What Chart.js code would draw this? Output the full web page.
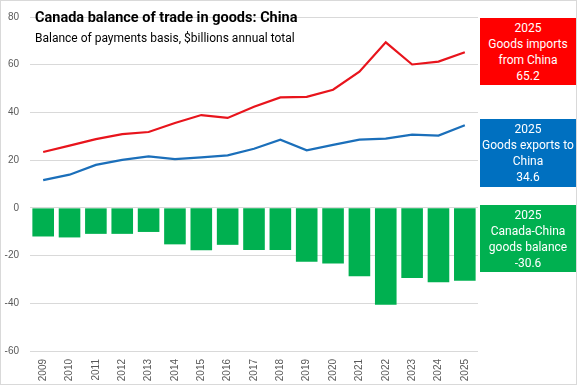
<!DOCTYPE html>
<html>
<head>
<meta charset="utf-8">
<script src="https://cdn.jsdelivr.net/npm/chart.js@4.4.1/dist/chart.umd.min.js"></script>
<style>
  html, body { margin: 0; padding: 0; background: #fff; }
  #wrap { position: relative; width: 577px; height: 385px; overflow: hidden; }
  #frame { position: absolute; left: 0; top: 0; width: 577px; height: 385px; box-sizing: border-box; border: 1px solid #d9d9d9; pointer-events: none; }
  #title { position: absolute; left: 35px; top: 9px; font-family: Roboto, sans-serif; font-weight: bold; font-size: 14.5px; color: #000; white-space: nowrap; }
  #subtitle { position: absolute; left: 35px; top: 31px; font-family: Roboto, sans-serif; font-size: 12px; color: #000; white-space: nowrap; }
  .box { position: absolute; left: 480px; width: 96px; color: #fff; font-family: Roboto, sans-serif; font-size: 12px; line-height: 16px; text-align: center; box-sizing: border-box; padding-top: 2px; }
</style>
</head>
<body>
<div id="wrap">
  <canvas id="c" width="577" height="385"></canvas>
  <div id="title">Canada balance of trade in goods: China</div>
  <div id="subtitle">Balance of payments basis, $billions annual total</div>
  <div class="box" id="b1" style="top:18px;height:67px;background:#FF0000;">2025<br>Goods imports<br>from China<br>65.2</div>
  <div class="box" id="b2" style="top:119px;height:68px;background:#0070C0;">2025<br>Goods exports to<br>China<br>34.6</div>
  <div class="box" id="b3" style="top:205px;height:67px;background:#00B050;">2025<br>Canada-China<br>goods balance<br>-30.6</div>
  <div id="frame"></div>
</div>
<script>
const years = ["2009","2010","2011","2012","2013","2014","2015","2016","2017","2018","2019","2020","2021","2022","2023","2024","2025"];
const imports = [23.4,26.1,28.8,30.9,31.8,35.6,38.9,37.7,42.4,46.3,46.5,49.5,57.1,69.4,60.1,61.3,65.2];
const exports_ = [11.6,13.9,18.0,20.1,21.6,20.4,21.2,22.0,24.8,28.6,24.1,26.4,28.6,29.0,30.7,30.3,34.6];
const balance = [-12.0,-12.4,-10.9,-10.9,-10.1,-15.3,-17.8,-15.5,-17.7,-17.7,-22.6,-23.3,-28.7,-40.6,-29.4,-31.2,-30.6];
const yTicks = [-60,-40,-20,0,20,40,60,80];

new Chart(document.getElementById('c'), {
  data: {
    labels: years,
    datasets: [
      { type: 'line', label: 'Goods imports from China', data: imports, borderColor: '#E8141C', borderWidth: 2.2, pointRadius: 0, tension: 0, order: 1 },
      { type: 'line', label: 'Goods exports to China', data: exports_, borderColor: '#1B6FBA', borderWidth: 2.2, pointRadius: 0, tension: 0, order: 2 },
      { type: 'bar', label: 'Canada-China goods balance', data: balance, backgroundColor: '#00B050', barPercentage: 0.82, categoryPercentage: 1.0, order: 3 }
    ]
  },
  options: {
    responsive: false,
    animation: false,
    layout: { padding: { left: 0, right: 99, top: 8, bottom: 0 } },
    plugins: { legend: { display: false }, title: { display: false }, tooltip: { enabled: false } },
    scales: {
      x: {
        type: 'category',
        offset: true,
        grid: { display: false, drawTicks: false },
        border: { display: false },
        ticks: { minRotation: 90, maxRotation: 90, padding: 8, color: '#595959', font: { family: 'Liberation Sans, Arial, sans-serif', size: 10 } },
        afterFit: (s) => { s.height = 34; }
      },
      y: {
        min: -60, max: 80,
        afterBuildTicks: (s) => { s.ticks = yTicks.map(v => ({ value: v })); },
        grid: { color: '#d9d9d9', lineWidth: 1, drawTicks: false },
        border: { display: false },
        ticks: { padding: 11, color: '#595959', font: { family: 'Liberation Sans, Arial, sans-serif', size: 10 } },
        afterFit: (s) => { s.width = 30; }
      }
    }
  }
});
</script>
</body>
</html>
